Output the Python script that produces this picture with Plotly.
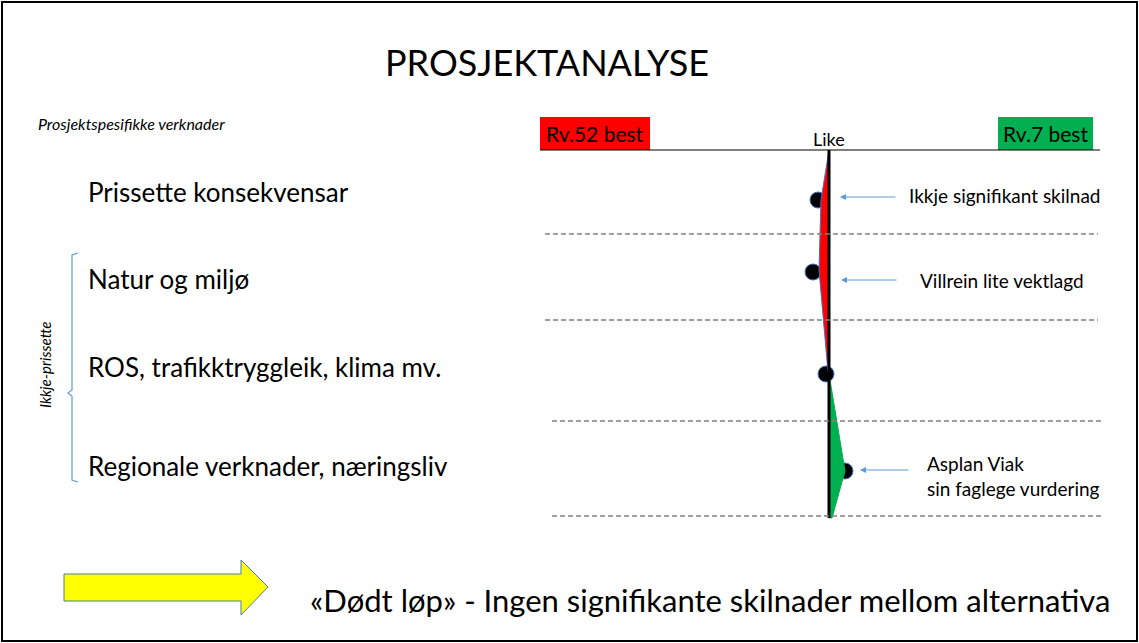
import plotly.graph_objects as go

W, H = 1139, 643
CENTER_PX = 829   # where "Like" (score 0) sits on the slide
PX_PER_UNIT = 10

# data: categories and scores (negative = Rv.52 best, positive = Rv.7 best)
categories = ['Prissette konsekvensar', 'Natur og miljø',
              'ROS, trafikktryggleik, klima mv.', 'Regionale verknader, næringsliv']
scores = [-1.1, -1.6, -0.3, 1.6]
red_shape_x = [0, -0.8, -1.0, -0.1, 0]
green_shape_x = [0, 1.6, 0.3, 0]
comments = ['Ikkje signifikant skilnad', 'Villrein lite vektlagd', None,
            'Asplan Viak<br>sin faglege vurdering']

# layout (slide pixels)
label_y = [192, 279, 367, 466]
dot_y = [200, 272, 374, 471]
red_shape_y = [150, 200, 270, 372, 372]
green_shape_y = [374, 471, 518, 518]
divider_y = [234, 320, 421, 516]
FONT = 'Lato'

fig = go.Figure()

# dots first, so the coloured shapes sit on top of them
fig.add_trace(go.Scatter(
    x=scores, y=dot_y, mode='markers', xaxis='x2', yaxis='y',
    marker=dict(size=16, color='black', line=dict(color='#4472c4', width=1)),
    hoverinfo='skip', showlegend=False))
fig.add_trace(go.Scatter(
    x=red_shape_x, y=red_shape_y, mode='lines', fill='toself', xaxis='x2', yaxis='y',
    fillcolor='#ff0000', line=dict(color='#4472c4', width=1),
    hoverinfo='skip', showlegend=False))
fig.add_trace(go.Scatter(
    x=green_shape_x, y=green_shape_y, mode='lines', fill='toself', xaxis='x2', yaxis='y',
    fillcolor='#00b050', line=dict(color='#00b050', width=1),
    hoverinfo='skip', showlegend=False))
# "Like" line
fig.add_trace(go.Scatter(
    x=[0, 0], y=[150, 518], mode='lines', xaxis='x2', yaxis='y',
    line=dict(color='black', width=3), hoverinfo='skip', showlegend=False))

shapes = []
# slide border
shapes.append(dict(type='rect', x0=2, x1=1137, y0=2, y1=641,
                   line=dict(color='black', width=2)))
# top axis line
shapes.append(dict(type='line', x0=540, x1=1100, y0=150, y1=150,
                   line=dict(color='black', width=1.2)))
# dashed dividers
for i, yy in enumerate(divider_y):
    x0, x1 = (545, 1098) if i < 2 else (552, 1102)
    shapes.append(dict(type='line', x0=x0, x1=x1, y0=yy, y1=yy,
                       line=dict(color='#808080', width=1.3, dash='5px,3px')))
# headers
shapes.append(dict(type='rect', x0=540, x1=650, y0=117, y1=150,
                   fillcolor='#ff0000', line=dict(width=0), layer='below'))
shapes.append(dict(type='rect', x0=998, x1=1093, y0=117, y1=150,
                   fillcolor='#00b050', line=dict(width=0), layer='below'))
# bracket for Ikkje-prissette
shapes.append(dict(type='path',
                   path='M 78 253 L 72 255 L 72 390 L 68 393 L 72 396 L 72 480 L 78 482',
                   line=dict(color='#5b9bd5', width=1.2)))
# yellow arrow
shapes.append(dict(type='path',
                   path='M 64 574 L 241 574 L 241 560 L 268 587 L 241 615 L 241 601 L 64 601 Z',
                   fillcolor='#ffff00', line=dict(color='#4a7ab0', width=1)))

annotations = [
    dict(x=547, y=62, text='PROSJEKTANALYSE', showarrow=False,
         font=dict(family=FONT, size=36, color='black')),
    dict(x=36, y=123, text='<i>Prosjektspesifikke verknader</i>', showarrow=False,
         xanchor='left', font=dict(family=FONT, size=16, color='black')),
    dict(x=595, y=133, text='Rv.52 best', showarrow=False,
         font=dict(family=FONT, size=21, color='black')),
    dict(x=1045, y=133, text='Rv.7 best', showarrow=False,
         font=dict(family=FONT, size=21, color='black')),
    dict(x=829, y=139, text='Like', showarrow=False,
         font=dict(family=FONT, size=18, color='black')),
    dict(x=45, y=365, text='<i>Ikkje-prissette</i>', showarrow=False, textangle=-90,
         font=dict(family=FONT, size=15, color='black')),
    dict(x=308, y=600, text='«Dødt løp» - Ingen signifikante skilnader mellom alternativa',
         showarrow=False, xanchor='left',
         font=dict(family=FONT, size=31, color='black')),
]
for cat, yy in zip(categories, label_y):
    annotations.append(dict(x=86, y=yy, text=cat, showarrow=False, xanchor='left',
                            font=dict(family=FONT, size=26, color='black')))

# comment arrows pointing at the dots
comment_pos = [(897, 197, 840, 907, 195), (898, 280, 841, 918, 280), None,
               (910, 470, 860, 925, 476)]
for com, pos in zip(comments, comment_pos):
    if com is None:
        continue
    tail_x, ay, head_x, tx, ty = pos
    annotations.append(dict(x=head_x, y=ay, ax=tail_x, ay=ay, xref='x', yref='y',
                            axref='x', ayref='y', text='', showarrow=True,
                            arrowhead=2, arrowsize=1.2, arrowwidth=1, arrowcolor='#5b9bd5'))
    annotations.append(dict(x=tx, y=ty, text=com, showarrow=False, xanchor='left',
                            align='left', font=dict(family=FONT, size=19, color='black')))

fig.update_layout(
    width=W, height=H,
    margin=dict(l=0, r=0, t=0, b=0),
    paper_bgcolor='white', plot_bgcolor='white',
    xaxis=dict(range=[0, W], visible=False, fixedrange=True),
    xaxis2=dict(range=[-CENTER_PX / PX_PER_UNIT, (W - CENTER_PX) / PX_PER_UNIT],
                overlaying='x', visible=False, fixedrange=True),
    yaxis=dict(range=[H, 0], visible=False, fixedrange=True),
    shapes=shapes,
    annotations=annotations,
)

# drop the default page margin so the slide fills the window exactly
fig.write_html("out.html", config={'displayModeBar': False},
               post_script="document.body.style.margin='0px';")
